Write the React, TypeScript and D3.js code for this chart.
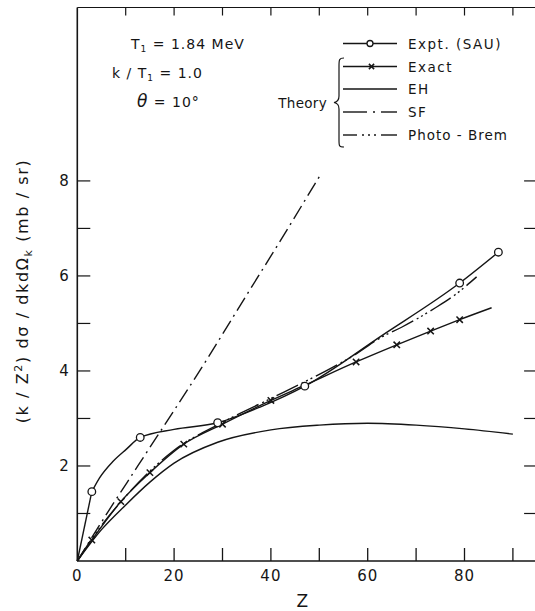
import React from "react";
import * as d3 from "d3";

// values (Z vs (k/Z^2) dsigma/dk dOmega)
const exptZ = [3, 13, 29, 47, 79, 87];
const exptY = [1.46, 2.6, 2.91, 3.68, 5.85, 6.5];
// steep rise from the origin to the first point, then a smooth trace
const exptRiseZ = [0, 3];
const exptRiseY = [0, 1.46];
const exptTraceZ = [3, 4.6, 7.4, 10.1, 13, 20, 29, 38, 47, 63, 79, 87];
const exptTraceY = [1.46, 1.75, 2.1, 2.35, 2.6, 2.77, 2.91, 3.25, 3.68, 4.75, 5.85, 6.5];

const exactZ = [0, 3, 9, 15, 22, 30, 40, 47, 57.6, 66, 73, 79, 85.6];
const exactY = [0, 0.44, 1.25, 1.86, 2.46, 2.88, 3.38, 3.7, 4.19, 4.55, 4.84, 5.08, 5.33];
const exactMarkZ = [3, 9, 15, 22, 30, 40, 57.6, 66, 73, 79];
const exactMarkY = [0.44, 1.25, 1.86, 2.46, 2.88, 3.38, 4.19, 4.55, 4.84, 5.08];

const ehZ = [0, 5, 10, 15, 20, 29, 40, 50, 60, 70, 80, 90];
const ehY = [0, 0.66, 1.18, 1.66, 2.06, 2.5, 2.76, 2.86, 2.9, 2.86, 2.78, 2.67];

const sfZ = [0, 6, 12.5, 27, 35, 42, 50];
const sfY = [0, 0.98, 2.0, 4.28, 5.6, 6.75, 8.09];

const pbZ = [0, 3, 10, 20, 30, 40, 50, 57, 63, 67, 74, 78, 82.5];
const pbY = [0, 0.47, 1.36, 2.33, 2.92, 3.42, 3.93, 4.32, 4.72, 4.92, 5.33, 5.6, 5.98];

const xMinorTicks = [10, 20, 30, 40, 50, 60, 70, 80, 90];
const xTickLabels = [0, 20, 40, 60, 80];
const yMinorTicks = [1, 2, 3, 4, 5, 6, 7, 8];
const yTickLabels = [2, 4, 6, 8];

const W = 535;
const H = 611;
const FONT = "DejaVu Sans";
const INK = "#151515";

const x = d3.scaleLinear().domain([0, 95]).range([77.3, 537.1]);
const y = d3.scaleLinear().domain([0, 11.65]).range([561, 7.5]);

const zip = (zs: number[], ys: number[]) => zs.map((z, i) => [z, ys[i]] as [number, number]);

const smooth = d3
  .line<[number, number]>()
  .x((d) => x(d[0]))
  .y((d) => y(d[1]))
  .curve(d3.curveMonotoneX);

const XMark = ({ cx, cy, s = 3.2 }: { cx: number; cy: number; s?: number }) => (
  <g stroke={INK} strokeWidth={1.5}>
    <line x1={cx - s} y1={cy - s} x2={cx + s} y2={cy + s} />
    <line x1={cx - s} y1={cy + s} x2={cx + s} y2={cy - s} />
  </g>
);

const App = () => {
  const x0 = x.range()[0];
  const x1 = x.range()[1];
  const yb = y.range()[0];
  const yt = y.range()[1];

  // legend rows
  const lx0 = 343;
  const lx1 = 397;
  const rows = [43.5, 66.5, 89, 112, 135];
  const ltext = 408;

  return (
    <div style={{ position: "fixed", left: 0, top: 0 }}>
      <svg width={W} height={H} style={{ display: "block", background: "#fff" }}>
        {/* frame */}
        <g stroke={INK} fill="none">
          <line x1={x0} y1={yb} x2={x1} y2={yb} strokeWidth={1.6} />
          <line x1={x0} y1={yt} x2={x0} y2={yb} strokeWidth={1.6} />
          <line x1={x0} y1={yt} x2={x1} y2={yt} strokeWidth={1.2} />
          <line x1={x1} y1={yt} x2={x1} y2={yb} strokeWidth={1.2} />
          {xMinorTicks.map((t) => (
            <g key={"xt" + t}>
              <line x1={x(t)} x2={x(t)} y1={yb} y2={yb - 13} strokeWidth={1.3} />
              <line x1={x(t)} x2={x(t)} y1={yt} y2={yt + 8} strokeWidth={1.2} />
            </g>
          ))}
          {yMinorTicks.map((t) => (
            <g key={"yt" + t}>
              <line x1={x0} x2={x0 + 13} y1={y(t)} y2={y(t)} strokeWidth={1.2} />
              <line x1={x1} x2={x1 - 13} y1={y(t)} y2={y(t)} strokeWidth={1.2} />
            </g>
          ))}
        </g>

        {/* tick labels */}
        <g fontFamily={FONT} fontSize={15} fill={INK}>
          {xTickLabels.map((t) => (
            <text key={"xl" + t} x={x(t)} y={581} textAnchor="middle" letterSpacing={1}>
              {t}
            </text>
          ))}
          {yTickLabels.map((t) => (
            <text key={"yl" + t} x={64} y={y(t) + 5.5} textAnchor="middle">
              {t}
            </text>
          ))}
        </g>

        {/* axis titles */}
        <text x={x(46.5)} y={607} fontFamily={FONT} fontSize={17} textAnchor="middle" fill={INK}>
          Z
        </text>
        <text
          transform="translate(28,291) rotate(-90)"
          fontFamily={FONT}
          fontSize={16}
          textAnchor="middle"
          letterSpacing={1.6}
          fill={INK}
        >
          (k / Z
          <tspan dy={-6} fontSize={11}>2</tspan>
          <tspan dy={6}>) dσ / dkdΩ</tspan>
          <tspan dy={4} fontSize={11}>k</tspan>
          <tspan dy={-4}> (mb / sr)</tspan>
        </text>

        {/* curves */}
        <g fill="none" stroke={INK} strokeWidth={1.4}>
          <path d={smooth(zip(ehZ, ehY)) || ""} />
          <path d={smooth(zip(exactZ, exactY)) || ""} />
          <path d={smooth(zip(exptRiseZ, exptRiseY)) || ""} />
          <path d={smooth(zip(exptTraceZ, exptTraceY)) || ""} />
          <path d={smooth(zip(sfZ, sfY)) || ""} strokeDasharray="15 5 2 5" />
          <path d={smooth(zip(pbZ, pbY)) || ""} strokeDasharray="24 4 2 3 2 3 2 4" />
        </g>

        {/* markers */}
        {exactMarkZ.map((z, i) => (
          <XMark key={"xm" + i} cx={x(z)} cy={y(exactMarkY[i])} />
        ))}
        {exptZ.map((z, i) => (
          <circle key={"em" + i} cx={x(z)} cy={y(exptY[i])} r={3.8} fill="#fff" stroke={INK} strokeWidth={1.3} />
        ))}

        {/* annotations */}
        <g fontFamily={FONT} fontSize={14} fill={INK} letterSpacing={1}>
          <text x={131} y={rows[0] + 5}>
            T<tspan dy={3} fontSize={9}>1</tspan>
            <tspan dy={-3}> = 1.84 MeV</tspan>
          </text>
          <text x={112} y={72.5 + 5}>
            k / T<tspan dy={3} fontSize={9}>1</tspan>
            <tspan dy={-3}> = 1.0</tspan>
          </text>
          <text x={137} y={101.5 + 5}>
            <tspan fontStyle="italic" fontSize={17}>θ</tspan> = 10°
          </text>
        </g>

        {/* legend */}
        <g stroke={INK} strokeWidth={1.4} fill="none">
          <line x1={lx0} x2={lx1} y1={rows[0]} y2={rows[0]} />
          <line x1={lx0} x2={lx1} y1={rows[1]} y2={rows[1]} />
          <line x1={lx0} x2={lx1} y1={rows[2]} y2={rows[2]} />
          <line x1={lx0} x2={367} y1={rows[3]} y2={rows[3]} />
          <line x1={373} x2={375} y1={rows[3]} y2={rows[3]} />
          <line x1={381} x2={lx1} y1={rows[3]} y2={rows[3]} />
          <line x1={lx0} x2={357} y1={rows[4]} y2={rows[4]} />
          <line x1={362} x2={364} y1={rows[4]} y2={rows[4]} />
          <line x1={368} x2={370} y1={rows[4]} y2={rows[4]} />
          <line x1={374} x2={376} y1={rows[4]} y2={rows[4]} />
          <line x1={381} x2={lx1} y1={rows[4]} y2={rows[4]} />
          {/* brace */}
          <path d="M344,58 C339,58 339,60 339,66 L339,96 C339,100 337,102 334,102.5 C337,103 339,105 339,109 L339,140 C339,146 339,147 344,147" strokeWidth={1.2} />
        </g>
        <circle cx={370} cy={rows[0]} r={3} fill="#fff" stroke={INK} strokeWidth={1.3} />
        <XMark cx={371.5} cy={rows[1]} s={2.6} />
        <g fontFamily={FONT} fontSize={13.5} fill={INK} letterSpacing={1.5}>
          <text x={ltext} y={rows[0] + 5}>Expt. (SAU)</text>
          <text x={ltext} y={rows[1] + 5}>Exact</text>
          <text x={ltext} y={rows[2] + 5}>EH</text>
          <text x={ltext} y={rows[3] + 5}>SF</text>
          <text x={ltext} y={rows[4] + 5} letterSpacing={1}>Photo - Brem</text>
          <text x={327} y={102.5 + 5} textAnchor="end" letterSpacing={0.3}>Theory</text>
        </g>
      </svg>
    </div>
  );
};

export default App;
